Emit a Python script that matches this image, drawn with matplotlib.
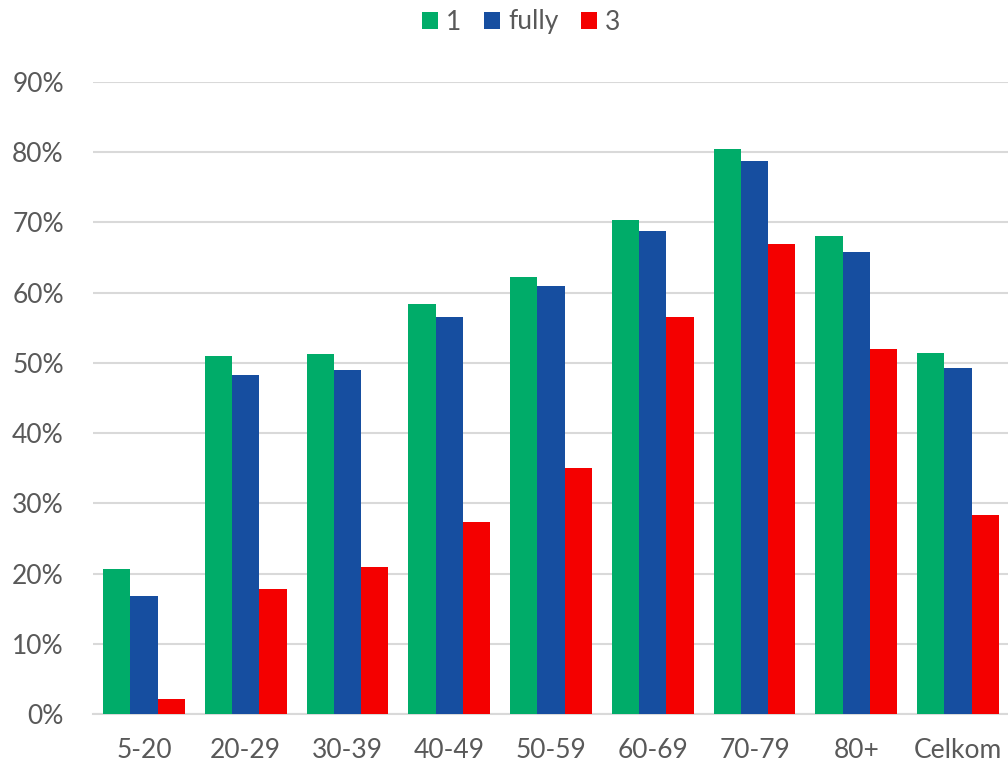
import matplotlib
matplotlib.use("Agg")
import matplotlib.pyplot as plt
import numpy as np
from matplotlib.ticker import FuncFormatter, MultipleLocator

categories = ["5-20", "20-29", "30-39", "40-49", "50-59", "60-69", "70-79", "80+", "Celkom"]
series_names = ["1", "fully", "3"]
s1 = [20.6, 51.0, 51.2, 58.4, 62.3, 70.3, 80.4, 68.1, 51.4]
s2 = [16.8, 48.3, 49.0, 56.5, 60.9, 68.8, 78.8, 65.8, 49.3]
s3 = [2.1, 17.8, 21.0, 27.3, 35.0, 56.6, 67.0, 52.0, 28.3]
colors = ["#00AC69", "#164EA0", "#F40000"]

plt.rcParams['font.family'] = ['Lato', 'DejaVu Sans']
text_color = "#595959"

fig = plt.figure(figsize=(10.08, 7.65), dpi=100)
ax = fig.add_axes([93/1008, 1 - 714/765, (1009 - 93)/1008, (714 - 82)/765])

x = np.arange(len(categories))
w = 0.268
for i, (vals, name, c) in enumerate(zip([s1, s2, s3], series_names, colors)):
    ax.bar(x + (i - 1) * w, vals, width=w, color=c, label=name, zorder=3,
           edgecolor="none")

ax.set_xlim(-0.5, len(categories) - 0.5)
ax.set_ylim(0, 90)
ax.yaxis.set_major_locator(MultipleLocator(10))
ax.yaxis.set_major_formatter(FuncFormatter(lambda v, p: f"{int(round(v))}%"))
ax.grid(axis='y', color="#D9D9D9", linewidth=1.5, zorder=0)
ax.set_axisbelow(True)
for s in ["top", "right", "left"]:
    ax.spines[s].set_visible(False)
ax.spines["bottom"].set_color("#D9D9D9")
ax.spines["bottom"].set_linewidth(1.5)
ax.spines["bottom"].set_zorder(1)
ax.set_xticks(x)
ax.set_xticklabels(categories)
ax.tick_params(axis='both', length=0, labelsize=19, colors=text_color)
ax.tick_params(axis='y', pad=21)
ax.tick_params(axis='x', pad=17)

fig.legend(loc="center", bbox_to_anchor=(0.517, 1 - 22/765), ncol=3, frameon=False,
           fontsize=19, handlelength=0.62, handleheight=0.62, handletextpad=0.3,
           columnspacing=0.85, labelcolor=text_color, borderaxespad=0)

fig.savefig("out.png", dpi=100)
